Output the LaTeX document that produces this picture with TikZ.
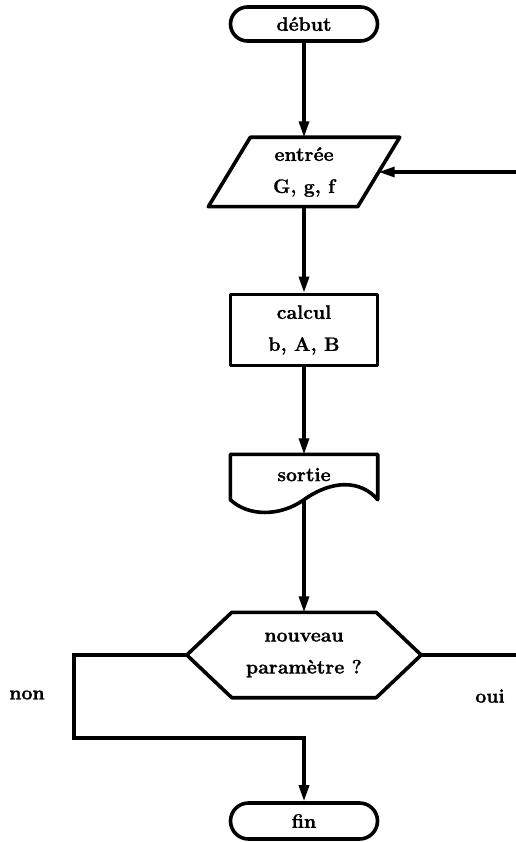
\documentclass[tikz,border=0pt]{standalone}
\usepackage{fontspec}
\newfontfamily\chartfont{Latin Modern Roman}[FakeBold=1.2]
\usetikzlibrary{arrows.meta,calc}
\begin{document}
\begin{tikzpicture}[x=1pt,y=-1pt,
  every node/.style={font=\chartfont\fontsize{19.5}{32}\selectfont\bfseries, align=center, inner sep=0pt},
  outline/.style={line width=3.6pt, line join=round},
  flow/.style={line width=3.2pt, -{Triangle[length=16pt,width=10pt]}},
  terminal/.style={outline, draw, rounded corners=17pt, minimum width=147pt, minimum height=34pt},
  procbox/.style={outline, draw, minimum width=147pt, minimum height=71pt},
]
\useasboundingbox (0,0) rectangle (515,842);

% start / end terminals
\node[terminal] (debut) at (304,24) {début};
\node[terminal, rounded corners=18pt, minimum height=36pt] (fin) at (304,821) {fin};

% input (parallelogram)
\node[minimum width=191pt, minimum height=69pt] (entree) at (304,172) {entrée\\G, g, f};
\draw[outline] (entree.south west) -- ($(entree.north west)+(42,0)$)
  -- (entree.north east) -- ($(entree.south east)+(-42,0)$) -- cycle;
\coordinate (entreeR) at ($(entree.east)+(-21,0)$);

% processing
\node[procbox] (calcul) at (304,330) {calcul\\b, A, B};

% output (document shape)
\node[minimum width=147pt, minimum height=45pt] (sortie) at (304,477) {\raisebox{5pt}{sortie}};
\draw[outline] (sortie.south east) -- (sortie.north east) -- (sortie.north west)
  -- (sortie.south west) .. controls +(18,17) and +(-24,17) .. (sortie.south)
  .. controls +(28,-20) and +(-17,-20) .. (sortie.south east) -- cycle;

% decision (hexagon)
\node[minimum width=234pt, minimum height=85pt] (hex) at (304,655) {nouveau\\paramètre ?};
\draw[outline] (hex.west) -- ($(hex.north west)+(45,0)$) -- ($(hex.north east)+(-45,0)$)
  -- (hex.east) -- ($(hex.south east)+(-45,0)$) -- ($(hex.south west)+(45,0)$) -- cycle;

% branch labels
\node (non) at (27,695) {non};
\node (oui) at (490,696) {oui};

% main flow
\draw[flow] (debut) -- (entree);
\draw[flow] (entree) -- (calcul);
\draw[flow] (calcul) -- (sortie);
\draw[flow] (sortie.south) -- (hex);

% "non" branch to the end
\coordinate (nonturn) at (74,738);
\draw[flow] (hex.west) -| (nonturn) -| (fin.north);

% "oui" branch back to the input
\coordinate (ouiturn) at (524,0);
\draw[flow] (hex.east) -- (hex.east -| ouiturn) -- (ouiturn |- entreeR) -- (entreeR);
\end{tikzpicture}
\end{document}
